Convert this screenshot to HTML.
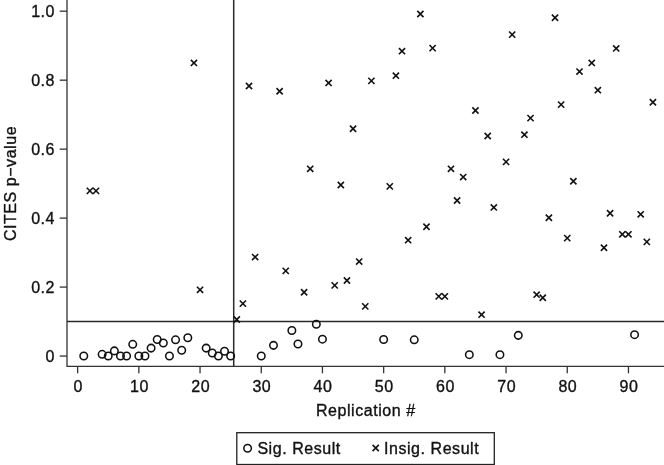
<!DOCTYPE html><html><head><meta charset="utf-8"><style>html,body{margin:0;padding:0;background:#fff;}svg{display:block;will-change:transform;}text{font-family:"Liberation Sans",sans-serif;fill:#111;stroke:#111;stroke-width:0.35px;letter-spacing:0.55px;}</style></head><body>
<svg width="664" height="465" viewBox="0 0 664 465">
<rect width="664" height="465" fill="#fff"/>
<g stroke="#333" stroke-width="1.3" fill="none">
<path d="M67.0,0 V366.4 H664"/>
<path d="M59.7,356.05 H67.0"/>
<path d="M59.7,287.08 H67.0"/>
<path d="M59.7,218.11 H67.0"/>
<path d="M59.7,149.14 H67.0"/>
<path d="M59.7,80.17 H67.0"/>
<path d="M59.7,11.20 H67.0"/>
<path d="M77.65,366.4 V373.3"/>
<path d="M138.85,366.4 V373.3"/>
<path d="M200.05,366.4 V373.3"/>
<path d="M261.25,366.4 V373.3"/>
<path d="M322.45,366.4 V373.3"/>
<path d="M383.65,366.4 V373.3"/>
<path d="M444.85,366.4 V373.3"/>
<path d="M506.05,366.4 V373.3"/>
<path d="M567.25,366.4 V373.3"/>
<path d="M628.45,366.4 V373.3"/>
</g>
<g stroke="#2a2a2a" stroke-width="1.5" fill="none">
<path d="M233.71,0 V366.4"/>
<path d="M67.0,321.56 H664"/>
</g>
<g font-size="16">
<text x="55.05" y="361.55" text-anchor="end">0</text>
<text x="55.05" y="292.58" text-anchor="end">0.2</text>
<text x="55.05" y="223.61" text-anchor="end">0.4</text>
<text x="55.05" y="154.64" text-anchor="end">0.6</text>
<text x="55.05" y="85.67" text-anchor="end">0.8</text>
<text x="55.05" y="16.70" text-anchor="end">1.0</text>
<text x="78.25" y="391.6" text-anchor="middle">0</text>
<text x="139.45" y="391.6" text-anchor="middle">10</text>
<text x="200.65" y="391.6" text-anchor="middle">20</text>
<text x="261.85" y="391.6" text-anchor="middle">30</text>
<text x="323.05" y="391.6" text-anchor="middle">40</text>
<text x="384.25" y="391.6" text-anchor="middle">50</text>
<text x="445.45" y="391.6" text-anchor="middle">60</text>
<text x="506.65" y="391.6" text-anchor="middle">70</text>
<text x="567.85" y="391.6" text-anchor="middle">80</text>
<text x="629.05" y="391.6" text-anchor="middle">90</text>
<text x="365.8" y="415.7" text-anchor="middle">Replication #</text>
<text transform="translate(15.5,183.5) rotate(-90)" text-anchor="middle">CITES p−value</text>
</g>
<g stroke="#111" stroke-width="1.55" fill="none">
<circle cx="83.77" cy="356.05" r="3.75"/>
<circle cx="102.13" cy="354.33" r="3.75"/>
<circle cx="108.25" cy="356.05" r="3.75"/>
<circle cx="114.37" cy="350.88" r="3.75"/>
<circle cx="120.49" cy="356.05" r="3.75"/>
<circle cx="126.61" cy="356.05" r="3.75"/>
<circle cx="132.73" cy="344.33" r="3.75"/>
<circle cx="138.85" cy="356.05" r="3.75"/>
<circle cx="144.97" cy="356.05" r="3.75"/>
<circle cx="151.09" cy="348.12" r="3.75"/>
<circle cx="157.21" cy="339.50" r="3.75"/>
<circle cx="163.33" cy="342.95" r="3.75"/>
<circle cx="169.45" cy="356.05" r="3.75"/>
<circle cx="175.57" cy="339.84" r="3.75"/>
<circle cx="181.69" cy="350.19" r="3.75"/>
<circle cx="187.81" cy="337.77" r="3.75"/>
<circle cx="206.17" cy="348.12" r="3.75"/>
<circle cx="212.29" cy="352.95" r="3.75"/>
<circle cx="218.41" cy="356.05" r="3.75"/>
<circle cx="224.53" cy="351.22" r="3.75"/>
<circle cx="230.65" cy="356.05" r="3.75"/>
<circle cx="261.25" cy="356.05" r="3.75"/>
<circle cx="273.49" cy="345.36" r="3.75"/>
<circle cx="291.85" cy="330.53" r="3.75"/>
<circle cx="297.97" cy="343.98" r="3.75"/>
<circle cx="316.33" cy="324.32" r="3.75"/>
<circle cx="322.45" cy="339.15" r="3.75"/>
<circle cx="383.65" cy="339.50" r="3.75"/>
<circle cx="414.25" cy="339.84" r="3.75"/>
<circle cx="469.33" cy="354.67" r="3.75"/>
<circle cx="499.93" cy="354.67" r="3.75"/>
<circle cx="518.29" cy="335.36" r="3.75"/>
<circle cx="634.57" cy="334.67" r="3.75"/>
</g>
<g stroke="#111" stroke-width="1.6" fill="none">
<path d="M86.79,187.77 L92.99,193.97 M86.79,193.97 L92.99,187.77"/>
<path d="M92.91,187.77 L99.11,193.97 M92.91,193.97 L99.11,187.77"/>
<path d="M190.83,59.83 L197.03,66.03 M190.83,66.03 L197.03,59.83"/>
<path d="M196.95,286.74 L203.15,292.94 M196.95,292.94 L203.15,286.74"/>
<path d="M233.67,316.40 L239.87,322.60 M233.67,322.60 L239.87,316.40"/>
<path d="M239.79,300.53 L245.99,306.73 M239.79,306.73 L245.99,300.53"/>
<path d="M245.91,82.93 L252.11,89.13 M245.91,89.13 L252.11,82.93"/>
<path d="M252.03,253.98 L258.23,260.18 M252.03,260.18 L258.23,253.98"/>
<path d="M276.51,88.11 L282.71,94.31 M276.51,94.31 L282.71,88.11"/>
<path d="M282.63,267.77 L288.83,273.97 M282.63,273.97 L288.83,267.77"/>
<path d="M300.99,289.15 L307.19,295.35 M300.99,295.35 L307.19,289.15"/>
<path d="M307.11,165.70 L313.31,171.90 M307.11,171.90 L313.31,165.70"/>
<path d="M325.47,79.83 L331.67,86.03 M325.47,86.03 L331.67,79.83"/>
<path d="M331.59,282.26 L337.79,288.46 M331.59,288.46 L337.79,282.26"/>
<path d="M337.71,181.90 L343.91,188.10 M337.71,188.10 L343.91,181.90"/>
<path d="M343.83,277.43 L350.03,283.63 M343.83,283.63 L350.03,277.43"/>
<path d="M349.95,125.69 L356.15,131.89 M349.95,131.89 L356.15,125.69"/>
<path d="M356.07,258.46 L362.27,264.66 M356.07,264.66 L362.27,258.46"/>
<path d="M362.19,303.29 L368.39,309.49 M362.19,309.49 L368.39,303.29"/>
<path d="M368.31,77.76 L374.51,83.96 M368.31,83.96 L374.51,77.76"/>
<path d="M386.67,183.28 L392.87,189.48 M386.67,189.48 L392.87,183.28"/>
<path d="M392.79,72.59 L398.99,78.79 M392.79,78.79 L398.99,72.59"/>
<path d="M398.91,48.10 L405.11,54.30 M398.91,54.30 L405.11,48.10"/>
<path d="M405.03,237.08 L411.23,243.28 M405.03,243.28 L411.23,237.08"/>
<path d="M417.27,10.86 L423.47,17.06 M417.27,17.06 L423.47,10.86"/>
<path d="M423.39,223.63 L429.59,229.83 M423.39,229.83 L429.59,223.63"/>
<path d="M429.51,45.00 L435.71,51.20 M429.51,51.20 L435.71,45.00"/>
<path d="M435.63,293.29 L441.83,299.49 M435.63,299.49 L441.83,293.29"/>
<path d="M441.75,293.29 L447.95,299.49 M441.75,299.49 L447.95,293.29"/>
<path d="M447.87,165.70 L454.07,171.90 M447.87,171.90 L454.07,165.70"/>
<path d="M453.99,197.42 L460.19,203.62 M453.99,203.62 L460.19,197.42"/>
<path d="M460.11,173.97 L466.31,180.17 M460.11,180.17 L466.31,173.97"/>
<path d="M472.35,107.42 L478.55,113.62 M472.35,113.62 L478.55,107.42"/>
<path d="M478.47,311.57 L484.67,317.77 M478.47,317.77 L484.67,311.57"/>
<path d="M484.59,132.94 L490.79,139.14 M484.59,139.14 L490.79,132.94"/>
<path d="M490.71,204.32 L496.91,210.52 M490.71,210.52 L496.91,204.32"/>
<path d="M502.95,158.80 L509.15,165.00 M502.95,165.00 L509.15,158.80"/>
<path d="M509.07,31.55 L515.27,37.75 M509.07,37.75 L515.27,31.55"/>
<path d="M521.31,131.56 L527.51,137.76 M521.31,137.76 L527.51,131.56"/>
<path d="M527.43,115.00 L533.63,121.20 M527.43,121.20 L533.63,115.00"/>
<path d="M533.55,291.57 L539.75,297.77 M533.55,297.77 L539.75,291.57"/>
<path d="M539.67,294.67 L545.87,300.87 M539.67,300.87 L545.87,294.67"/>
<path d="M545.79,214.67 L551.99,220.87 M545.79,220.87 L551.99,214.67"/>
<path d="M551.91,14.65 L558.11,20.85 M551.91,20.85 L558.11,14.65"/>
<path d="M558.03,101.55 L564.23,107.75 M558.03,107.75 L564.23,101.55"/>
<path d="M564.15,235.01 L570.35,241.21 M564.15,241.21 L570.35,235.01"/>
<path d="M570.27,178.11 L576.47,184.31 M570.27,184.31 L576.47,178.11"/>
<path d="M576.39,68.45 L582.59,74.65 M576.39,74.65 L582.59,68.45"/>
<path d="M588.63,59.83 L594.83,66.03 M588.63,66.03 L594.83,59.83"/>
<path d="M594.75,87.07 L600.95,93.27 M594.75,93.27 L600.95,87.07"/>
<path d="M600.87,244.67 L607.07,250.87 M600.87,250.87 L607.07,244.67"/>
<path d="M606.99,210.18 L613.19,216.38 M606.99,216.38 L613.19,210.18"/>
<path d="M613.11,45.34 L619.31,51.54 M613.11,51.54 L619.31,45.34"/>
<path d="M619.23,231.22 L625.43,237.42 M619.23,237.42 L625.43,231.22"/>
<path d="M625.35,231.22 L631.55,237.42 M625.35,237.42 L631.55,231.22"/>
<path d="M637.59,211.22 L643.79,217.42 M637.59,217.42 L643.79,211.22"/>
<path d="M643.71,238.80 L649.91,245.00 M643.71,245.00 L649.91,238.80"/>
<path d="M649.83,99.14 L656.03,105.34 M649.83,105.34 L656.03,99.14"/>
</g>
<rect x="236.8" y="432.7" width="257.5" height="31.8" fill="none" stroke="#222" stroke-width="1.3"/>
<circle cx="247.6" cy="448.3" r="3.75" fill="none" stroke="#111" stroke-width="1.55"/>
<path d="M372.60,444.90 L378.80,451.10 M372.60,451.10 L378.80,444.90" stroke="#111" stroke-width="1.6" fill="none"/>
<text x="257.4" y="453.6" font-size="16">Sig. Result</text>
<text x="384" y="453.6" font-size="16">Insig. Result</text>
</svg></body></html>
